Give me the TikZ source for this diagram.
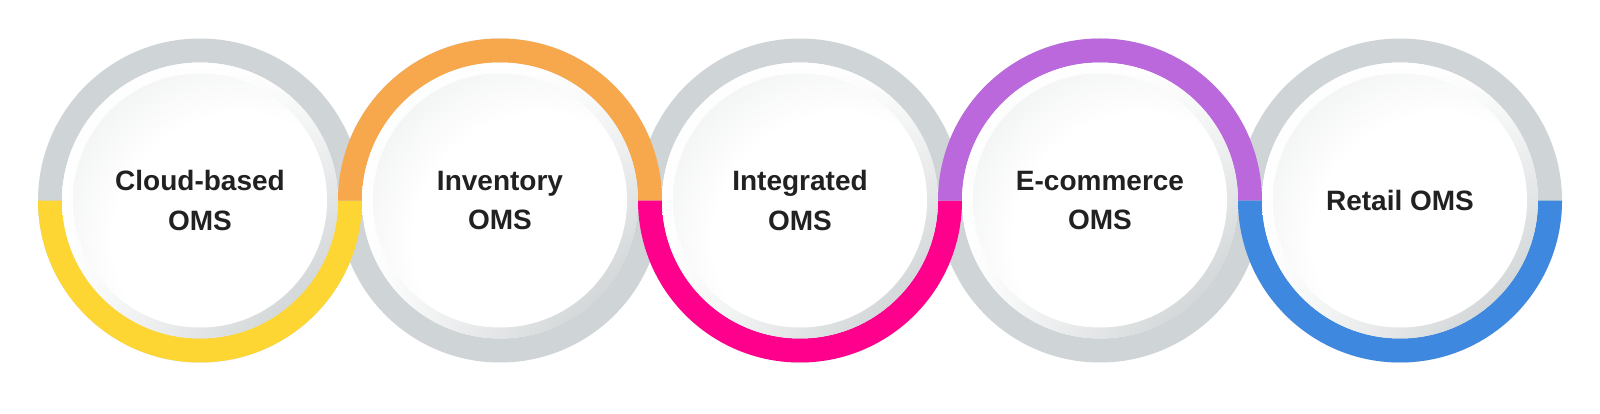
\documentclass[tikz,border=0pt]{standalone}
\usepackage{fontspec}
\usetikzlibrary{shadings}
\setmainfont{Liberation Sans}
\definecolor{ringgrey}{RGB}{207,212,214}
\definecolor{bevelgrey}{RGB}{196,201,203}
\definecolor{discgrey}{RGB}{206,210,212}
\definecolor{cyellow}{RGB}{253,214,51}
\definecolor{corange}{RGB}{247,168,77}
\definecolor{cpink}{RGB}{255,0,140}
\definecolor{cpurple}{RGB}{186,104,219}
\definecolor{cblue}{RGB}{62,136,224}
\definecolor{txt}{RGB}{33,33,33}
\pgfdeclareradialshading{discshade}{\pgfpoint{0bp}{0bp}}{color(0bp)=(white); color(15bp)=(white); color(45bp)=(discgrey); color(50bp)=(discgrey)}
\tikzset{
  lbl/.style={font=\fontsize{28}{39.5}\selectfont\bfseries, text=txt, align=center, inner sep=0pt}
}
\begin{document}
\begin{tikzpicture}[x=1pt,y=1pt]
\useasboundingbox (0,0) rectangle (1600,413);
\fill[white] (0,0) rectangle (1600,413);
\foreach \i/\x in {1/200,2/500,3/800,4/1100,5/1400}
  \coordinate (c\i) at (\x,212.5);
% grey rings
\foreach \i in {1,...,5}
  \fill[ringgrey, even odd rule] (c\i) circle[radius=162] (c\i) circle[radius=138];
% coloured halves
\foreach \i/\col/\s in {1/cyellow/-1,2/corange/1,3/cpink/-1,4/cpurple/1,5/cblue/-1}
  \fill[\col] ([shift={(0:162)}]c\i) arc[start angle=0, end angle=\s*180, radius=162]
     -- ([shift={(\s*180:138)}]c\i) arc[start angle=\s*180, end angle=0, radius=138] -- cycle;
% inner discs
\foreach \i in {1,...,5}{
  \shade[upper left=white, upper right=white, lower left=white, lower right=bevelgrey]
     (c\i) circle[radius=138];
  \begin{scope}
    \clip (c\i) circle[radius=127];
    \shade[shading=discshade] ([shift={(40,-40)}]c\i) circle[radius=210];
  \end{scope}
}
\node[lbl] (t1) at (c1) {Cloud-based\\OMS};
\node[lbl] (t2) at (c2) {Inventory\\OMS};
\node[lbl] (t3) at (c3) {Integrated\\OMS};
\node[lbl] (t4) at (c4) {E-commerce\\OMS};
\node[lbl] (t5) at (c5) {Retail OMS};
\end{tikzpicture}
\end{document}
